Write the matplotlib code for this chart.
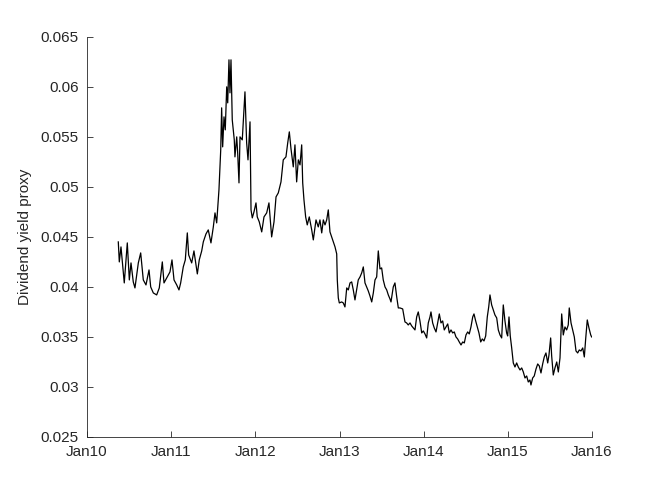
from datetime import datetime, timedelta

import matplotlib
matplotlib.use("Agg")
import matplotlib.pyplot as plt
import matplotlib.dates as mdates

# decimal years and the dividend yield proxy
years = [
    2010.372, 2010.384, 2010.404, 2010.443, 2010.479, 2010.503, 2010.523, 2010.550,
    2010.570, 2010.610, 2010.638, 2010.669, 2010.701, 2010.737, 2010.757, 2010.788,
    2010.828, 2010.859, 2010.895, 2010.915, 2010.954, 2010.986, 2011.010, 2011.034,
    2011.066, 2011.093, 2011.113, 2011.144, 2011.168, 2011.192, 2011.208, 2011.244,
    2011.271, 2011.311, 2011.334, 2011.363, 2011.382, 2011.414, 2011.441, 2011.473,
    2011.501, 2011.521, 2011.541, 2011.568, 2011.589, 2011.600, 2011.612, 2011.628,
    2011.643, 2011.660, 2011.672, 2011.687, 2011.699, 2011.711, 2011.726, 2011.750,
    2011.758, 2011.779, 2011.791, 2011.806, 2011.818, 2011.845, 2011.877, 2011.897,
    2011.913, 2011.937, 2011.949, 2011.964, 2011.984, 2012.008, 2012.023, 2012.047,
    2012.076, 2012.103, 2012.135, 2012.162, 2012.194, 2012.222, 2012.246, 2012.273,
    2012.305, 2012.332, 2012.364, 2012.385, 2012.404, 2012.424, 2012.451, 2012.471,
    2012.491, 2012.511, 2012.531, 2012.551, 2012.563, 2012.578, 2012.598, 2012.617,
    2012.641, 2012.670, 2012.689, 2012.721, 2012.748, 2012.768, 2012.789, 2012.808,
    2012.828, 2012.848, 2012.867, 2012.887, 2012.907, 2012.926, 2012.947, 2012.967,
    2012.974, 2012.986, 2012.998, 2013.026, 2013.045, 2013.065, 2013.086, 2013.105,
    2013.125, 2013.145, 2013.164, 2013.184, 2013.204, 2013.223, 2013.244, 2013.264,
    2013.283, 2013.303, 2013.323, 2013.342, 2013.362, 2013.383, 2013.402, 2013.422,
    2013.442, 2013.461, 2013.481, 2013.501, 2013.520, 2013.541, 2013.561, 2013.580,
    2013.600, 2013.612, 2013.639, 2013.659, 2013.680, 2013.699, 2013.719, 2013.751,
    2013.778, 2013.798, 2013.817, 2013.838, 2013.858, 2013.877, 2013.897, 2013.917,
    2013.936, 2013.956, 2013.977, 2013.996, 2014.016, 2014.036, 2014.055, 2014.075,
    2014.087, 2014.107, 2014.126, 2014.147, 2014.167, 2014.186, 2014.206, 2014.226,
    2014.245, 2014.265, 2014.286, 2014.305, 2014.325, 2014.345, 2014.364, 2014.384,
    2014.404, 2014.423, 2014.444, 2014.464, 2014.483, 2014.503, 2014.523, 2014.542,
    2014.562, 2014.583, 2014.598, 2014.618, 2014.637, 2014.657, 2014.678, 2014.697,
    2014.717, 2014.737, 2014.756, 2014.773, 2014.788, 2014.808, 2014.827, 2014.847,
    2014.868, 2014.887, 2014.907, 2014.927, 2014.946, 2014.966, 2014.986, 2014.998,
    2015.014, 2015.029, 2015.046, 2015.065, 2015.085, 2015.105, 2015.124, 2015.145,
    2015.165, 2015.184, 2015.204, 2015.224, 2015.243, 2015.263, 2015.275, 2015.295,
    2015.314, 2015.335, 2015.355, 2015.374, 2015.394, 2015.414, 2015.433, 2015.453,
    2015.474, 2015.489, 2015.509, 2015.521, 2015.540, 2015.560, 2015.581, 2015.600,
    2015.620, 2015.640, 2015.659, 2015.679, 2015.699, 2015.718, 2015.730, 2015.751,
    2015.771, 2015.790, 2015.810, 2015.830, 2015.849, 2015.869, 2015.890, 2015.909,
    2015.925, 2015.944, 2015.964, 2015.985, 2015.996,
]
dy = [
    0.0445, 0.0425, 0.0440, 0.0404, 0.0444, 0.0407, 0.0424, 0.0405,
    0.0399, 0.0424, 0.0434, 0.0407, 0.0402, 0.0417, 0.0400, 0.0394,
    0.0392, 0.0399, 0.0425, 0.0404, 0.0410, 0.0415, 0.0427, 0.0407,
    0.0402, 0.0397, 0.0404, 0.0420, 0.0427, 0.0454, 0.0432, 0.0424,
    0.0436, 0.0413, 0.0427, 0.0436, 0.0445, 0.0453, 0.0457, 0.0444,
    0.0460, 0.0474, 0.0464, 0.0497, 0.0537, 0.0579, 0.0540, 0.0570,
    0.0557, 0.0600, 0.0584, 0.0627, 0.0594, 0.0627, 0.0567, 0.0547,
    0.0530, 0.0550, 0.0533, 0.0504, 0.0550, 0.0547, 0.0595, 0.0544,
    0.0527, 0.0565, 0.0477, 0.0469, 0.0475, 0.0484, 0.0470, 0.0465,
    0.0455, 0.0470, 0.0474, 0.0484, 0.0450, 0.0465, 0.0490, 0.0494,
    0.0505, 0.0527, 0.0530, 0.0544, 0.0555, 0.0538, 0.0520, 0.0542,
    0.0505, 0.0527, 0.0522, 0.0542, 0.0504, 0.0487, 0.0470, 0.0462,
    0.0470, 0.0457, 0.0447, 0.0467, 0.0460, 0.0467, 0.0454, 0.0467,
    0.0462, 0.0467, 0.0477, 0.0455, 0.0450, 0.0445, 0.0440, 0.0433,
    0.0407, 0.0389, 0.0384, 0.0385, 0.0384, 0.0380, 0.0399, 0.0397,
    0.0404, 0.0405, 0.0397, 0.0387, 0.0397, 0.0407, 0.0410, 0.0414,
    0.0420, 0.0404, 0.0400, 0.0396, 0.0391, 0.0385, 0.0394, 0.0407,
    0.0410, 0.0436, 0.0418, 0.0419, 0.0407, 0.0400, 0.0397, 0.0392,
    0.0388, 0.0385, 0.0400, 0.0404, 0.0390, 0.0379, 0.0379, 0.0378,
    0.0365, 0.0364, 0.0362, 0.0364, 0.0361, 0.0359, 0.0357, 0.0370,
    0.0375, 0.0366, 0.0354, 0.0356, 0.0353, 0.0349, 0.0364, 0.0370,
    0.0375, 0.0364, 0.0359, 0.0355, 0.0364, 0.0373, 0.0364, 0.0366,
    0.0357, 0.0360, 0.0363, 0.0354, 0.0357, 0.0354, 0.0355, 0.0350,
    0.0348, 0.0345, 0.0342, 0.0345, 0.0344, 0.0352, 0.0355, 0.0353,
    0.0360, 0.0370, 0.0373, 0.0366, 0.0360, 0.0354, 0.0345, 0.0348,
    0.0346, 0.0351, 0.0370, 0.0380, 0.0392, 0.0382, 0.0377, 0.0372,
    0.0369, 0.0357, 0.0352, 0.0349, 0.0382, 0.0366, 0.0354, 0.0351,
    0.0370, 0.0351, 0.0339, 0.0324, 0.0320, 0.0324, 0.0320, 0.0317,
    0.0319, 0.0315, 0.0309, 0.0311, 0.0305, 0.0307, 0.0302, 0.0309,
    0.0311, 0.0318, 0.0323, 0.0321, 0.0314, 0.0323, 0.0330, 0.0334,
    0.0324, 0.0332, 0.0349, 0.0331, 0.0312, 0.0319, 0.0325, 0.0315,
    0.0329, 0.0373, 0.0352, 0.0360, 0.0357, 0.0362, 0.0379, 0.0364,
    0.0357, 0.0350, 0.0336, 0.0334, 0.0337, 0.0336, 0.0339, 0.0330,
    0.0348, 0.0367, 0.0359, 0.0352, 0.0350,
]

yticks = [0.025, 0.03, 0.035, 0.04, 0.045, 0.05, 0.055, 0.06, 0.065]
ytick_labels = ["0.025", "0.03", "0.035", "0.04", "0.045", "0.05", "0.055", "0.06", "0.065"]
xtick_years = [2010, 2011, 2012, 2013, 2014, 2015, 2016]


def to_date(t):
    return datetime(2010, 1, 1) + timedelta(days=(t - 2010) * 365.25)


dates = [to_date(t) for t in years]

plt.rcParams["font.family"] = ["Liberation Sans", "DejaVu Sans"]
plt.rcParams["font.size"] = 11

fig = plt.figure(figsize=(6.54, 4.91), dpi=100)
ax = fig.add_axes([0.133, 0.11, 0.772, 0.815])

ax.plot(dates, dy, color="black", linewidth=0.9)

ax.set_xlim(datetime(2010, 1, 1), datetime(2016, 1, 1))
ax.set_ylim(0.025, 0.065)
ax.set_xticks([datetime(y, 1, 1) for y in xtick_years])
ax.xaxis.set_major_formatter(mdates.DateFormatter("%b%y"))
ax.set_yticks(yticks)
ax.set_yticklabels(ytick_labels)

gray = "#262626"
for side in ["top", "right"]:
    ax.spines[side].set_visible(False)
for side in ["left", "bottom"]:
    ax.spines[side].set_color(gray)
    ax.spines[side].set_linewidth(0.6)
ax.tick_params(direction="in", length=4, width=0.6, color=gray, labelcolor=gray)
ax.tick_params(axis="y", pad=6)
ax.tick_params(axis="x", pad=6)
ax.set_ylabel("Dividend yield proxy", color=gray, labelpad=6)

fig.savefig("out.png", dpi=100)
